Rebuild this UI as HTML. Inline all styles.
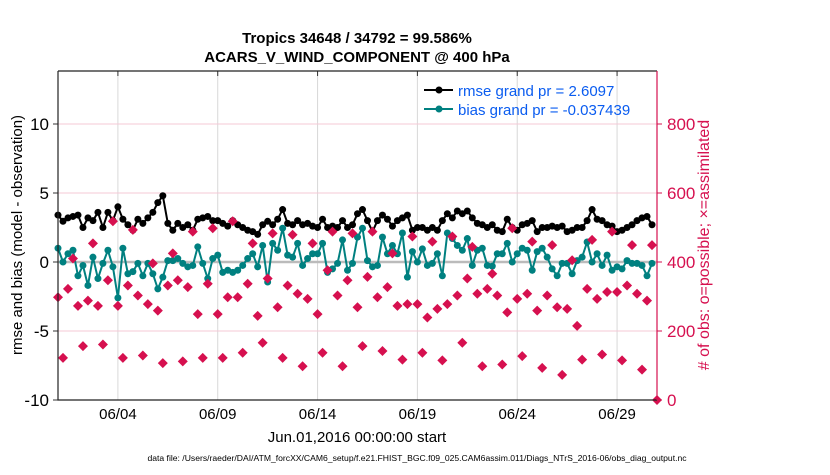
<!DOCTYPE html>
<html><head><meta charset="utf-8"><style>
body{margin:0;background:#fff;width:830px;height:470px;overflow:hidden}
text{font-family:"Liberation Sans",Arial,sans-serif}
</style></head><body>
<svg id="chart" width="830" height="470" viewBox="0 0 830 470">
<text x="357" y="43" text-anchor="middle" font-size="15" font-weight="bold">Tropics 34648 / 34792 = 99.586%</text>
<text x="357" y="62" text-anchor="middle" font-size="15" font-weight="bold">ACARS_V_WIND_COMPONENT @ 400 hPa</text>
<g id="grid"></g>
<g id="marks"></g>
<g id="axes"></g>
<text transform="translate(22,235) rotate(-90)" text-anchor="middle" font-size="15">rmse and bias (model - observation)</text>
<text transform="translate(709,245) rotate(-90)" text-anchor="middle" font-size="16" fill="#d6104f"># of obs: o=possible; ×=assimilated</text>
<text x="357" y="442" text-anchor="middle" font-size="15">Jun.01,2016 00:00:00 start</text>
<text x="417" y="461" text-anchor="middle" font-size="8.6">data file: /Users/raeder/DAI/ATM_forcXX/CAM6_setup/f.e21.FHIST_BGC.f09_025.CAM6assim.011/Diags_NTrS_2016-06/obs_diag_output.nc</text>
<g>
<line x1="424" y1="90" x2="453" y2="90" stroke="#000" stroke-width="2"/><circle cx="439" cy="90" r="3.5" fill="#000"/>
<text x="458" y="96" font-size="15" fill="#0a5cf0">rmse grand pr = 2.6097</text>
<line x1="424" y1="109" x2="453" y2="109" stroke="#008080" stroke-width="2"/><circle cx="439" cy="109" r="3.5" fill="#008080"/>
<text x="458" y="115" font-size="15" fill="#0a5cf0">bias grand pr = -0.037439</text>
</g>
</svg>
<script>
const rmse=[3.4,2.95,3.2,3.3,3.4,2.5,3.2,3.0,3.6,2.5,3.6,3.0,4.0,3.1,2.7,2.3,3.1,2.8,3.2,3.6,4.3,4.8,2.8,2.3,2.8,2.5,2.7,2.3,3.1,3.2,3.3,3.0,3.0,2.8,2.6,3.0,2.7,2.5,2.3,2.2,2.0,2.7,
2.95,2.7,3.1,3.8,2.8,2.7,3.0,2.7,2.8,2.6,2.5,3.1,2.5,2.6,2.5,3.0,2.5,2.7,3.5,3.8,3.0,2.2,3.0,3.4,3.1,2.6,3.0,3.2,3.4,2.3,2.5,2.5,2.3,2.5,2.3,3.0,3.5,3.2,3.7,3.5,
3.7,3.2,2.8,2.7,2.5,2.7,2.3,2.2,3.1,2.5,2.3,2.7,2.8,3.0,2.2,2.5,2.5,2.6,2.5,2.6,2.2,2.3,2.5,2.5,3.0,3.8,3.1,3.0,2.7,2.6,2.2,2.3,2.5,2.7,3.0,3.2,3.3,2.7];
const bias=[1.0,0,0.6,0.85,-1.0,-0.25,-1.7,0.35,-1.2,-0.1,0.85,-0.35,-2.6,1.0,-0.85,-0.7,-0.1,-1.0,-0.1,-0.85,-1.95,-1.1,0.1,0.1,0.25,-0.1,-0.35,-0.25,1.1,-0.1,-1.2,0.25,0.5,-0.75,-0.6,-0.75,-0.6,-0.25,0.25,0.6,-0.35,1.2,
-1.45,1.35,0.85,2.45,0.5,0.35,1.35,-0.25,0.25,0.6,0.6,1.35,-0.75,-0.5,-0.1,1.6,-0.6,-0.1,1.8,2.45,0.1,-0.35,-0.25,1.8,0.6,1.2,0.6,2.1,-1.1,0.75,0,0.95,-0.25,-0.1,0.6,-1.0,2.1,1.7,1.2,0.85,
1.7,-0.25,0.85,1.0,-0.25,-0.3,0.6,0.6,1.35,0,0.6,1.0,0.85,-0.6,0.75,1.0,0.35,-0.5,-1.0,-0.1,-0.1,-0.85,0.1,0.35,1.45,0,0.6,-0.25,0.5,-0.6,-0.35,-0.5,0.1,-0.1,-0.1,-0.25,-1.0,-0.1];
const nobs=[298,122,322,410,273,156,288,454,273,161,347,518,273,122,332,493,303,129,278,396,259,107,332,425,347,112,327,488,249,122,337,498,249,122,298,518,298,137,337,454,244,166,
352,483,269,122,332,479,308,98,293,454,249,137,376,488,303,98,347,483,269,156,357,488,298,142,327,425,273,117,278,474,278,137,239,459,264,115,278,474,303,166,
352,444,308,98,322,366,303,103,254,498,293,127,308,459,259,93,303,449,269,73,264,405,215,117,322,464,293,132,313,488,313,115,332,449,308,88,288,449,0];
const leftTicks=[-10,-5,0,5,10];
const rightTicks=[0,200,400,600,800];
const xTickDays=[3,8,13,18,23,28];
const xTickLabels=["06/04","06/09","06/14","06/19","06/24","06/29"];
const stepDays=0.25;

const L=58,R=657,T=71,B=400;
const xs=d=>L+(R-L)*d/30;
const ys=v=>262-v*13.8;
const yr=c=>ys((c-400)/40);
const NS="http://www.w3.org/2000/svg";
function mk(tag,attrs,parent){const e=document.createElementNS(NS,tag);for(const k in attrs)e.setAttribute(k,attrs[k]);parent.appendChild(e);return e;}
const grid=document.getElementById('grid'),marks=document.getElementById('marks'),axes=document.getElementById('axes');
xTickDays.forEach((d,i)=>{
  const g=mk('line',{x1:xs(d),x2:xs(d),y1:T,y2:B,stroke:'#d8d8d8','stroke-width':1},grid);
  
  
  const t=mk('text',{x:xs(d),y:B+19,'text-anchor':'middle','font-size':15},axes);
  t.textContent=xTickLabels[i];
  
  
  mk('line',{x1:xs(d),x2:xs(d),y1:T,y2:T+5,stroke:'#333'},axes);
});
rightTicks.forEach(c=>{
  if(c>0&&c!==400){const g=mk('line',{x1:L,x2:R,y1:yr(c),y2:yr(c),stroke:'#f4c8d6','stroke-width':1},grid);
  
  }
  mk('line',{x1:R,x2:R+5,y1:yr(c),y2:yr(c),stroke:'#d6104f'},axes);
  const t=mk('text',{x:R+10,y:yr(c)+6,'font-size':17,fill:'#d6104f'},axes);
  t.textContent=c;
  
  
});
leftTicks.forEach(v=>{
  mk('line',{x1:L-5,x2:L,y1:ys(v),y2:ys(v),stroke:'#333'},axes);
  const t=mk('text',{x:L-9,y:ys(v)+6,'text-anchor':'end','font-size':17},axes);
  t.textContent=v;
  
  
});
const zl=mk('line',{x1:L,x2:R,y1:ys(0),y2:ys(0),stroke:'#bbb','stroke-width':2.5},grid);


function series(arr,color,name){
  const pts=arr.map((v,i)=>xs(i*stepDays)+','+ys(v)).join(' ');
  const pl=mk('polyline',{points:pts,fill:'none',stroke:color,'stroke-width':2},marks);
  
  
  arr.forEach((v,i)=>{
    const c=mk('circle',{cx:xs(i*stepDays),cy:ys(v),r:3.5,fill:color},marks);
    
    
  });
}
series(bias,'#008080','bias');
series(rmse,'#000','rmse');
nobs.forEach((c,i)=>{
  const x=xs(i*stepDays),y=yr(c);
  const p=mk('path',{d:`M${x} ${y-5}L${x+5} ${y}L${x} ${y+5}L${x-5} ${y}Z`,fill:'#d6104f'},marks);
  
  
});
mk('path',{d:`M${L} ${T}H${R}M${L} ${T}V${B}H${R}`,fill:'none',stroke:'#222','stroke-width':1.2},axes);
mk('line',{x1:R,x2:R,y1:T,y2:B,stroke:'#d6104f','stroke-width':1.2},axes);
</script>
</body></html>
